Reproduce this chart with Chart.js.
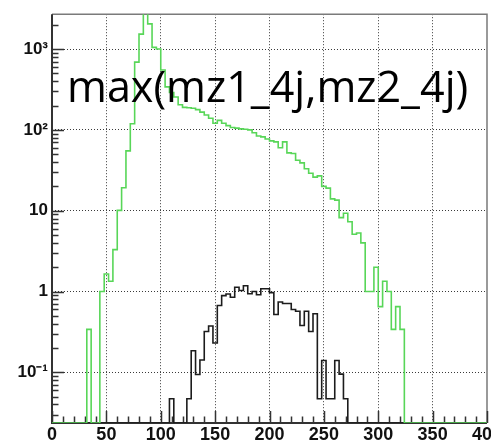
<!DOCTYPE html>
<html>
<head>
<meta charset="utf-8">
<script src="https://cdn.jsdelivr.net/npm/chart.js@4.4.0/dist/chart.umd.min.js"></script>
<style>
  html, body { margin: 0; padding: 0; background: #fff; overflow: hidden; width: 491px; height: 447px; }
  canvas { display: block; }
</style>
</head>
<body>
<canvas id="hist" width="520" height="447"></canvas>
<script>
// binning: 100 bins of width 4 between 0 and 400
const binStart = 0;
const binWidth = 4;

// green histogram, one value per bin (0 = empty bin)
const greenCounts = [
  0, 0, 0, 0, 0, 0, 0, 0, 0.34, 0,
  0, 1.0, 1.65, 1.34, 3.3, 10.1, 19.2, 55, 119, 690,
  1530, 3000, 2050, 1050, 1000, 550, 340, 290, 255, 205,
  190, 188, 185, 178, 166, 153, 139, 121, 131, 121,
  113, 107, 105, 103, 102, 100, 92, 84, 82, 77,
  73, 71, 60, 71, 52, 51, 42, 39, 33, 29,
  26, 27, 20, 19, 14, 13.5, 8.2, 9.3, 7.3, 5.1,
  5.3, 4.0, 1.0, 1.0, 2.0, 0.65, 1.34, 1.0, 0.34, 0.65,
  0.34, 0, 0, 0, 0, 0, 0, 0, 0, 0,
  0, 0, 0, 0, 0, 0, 0, 0, 0, 0
];

// black histogram
const blackCounts = [
  0, 0, 0, 0, 0, 0, 0, 0, 0, 0,
  0, 0, 0, 0, 0, 0, 0, 0, 0, 0,
  0, 0, 0, 0, 0, 0, 0, 0.047, 0, 0,
  0, 0.047, 0.185, 0.094, 0.142, 0.32, 0.374, 0.231, 0.67, 0.89,
  0.93, 0.85, 1.13, 1.03, 1.18, 0.94, 1.0, 0.91, 1.08, 1.08,
  0.97, 0.52, 0.74, 0.71, 0.71, 0.60, 0.57, 0.38, 0.57, 0.32,
  0.53, 0.047, 0.14, 0.047, 0.047, 0.14, 0.095, 0.047, 0, 0,
  0, 0, 0, 0, 0, 0, 0, 0, 0, 0,
  0, 0, 0, 0, 0, 0, 0, 0, 0, 0,
  0, 0, 0, 0, 0, 0, 0, 0, 0, 0
];

const xTickValues = [0, 50, 100, 150, 200, 250, 300, 350, 400];
const xTickLabels = ['0', '50', '100', '150', '200', '250', '300', '350', '400'];
const yTickValues = [0.1, 1, 10, 100, 1000];
const yTickLabels = ['10\u207B\u00B9', '1', '10', '10\u00B2', '10\u00B3'];
const titleText = 'max(mz1_4j,mz2_4j)';

const xMin = 0, xMax = 400;
const yMin = 0.0236, yMax = 2700;

// each bin -> two points (left edge, right edge); empty bins sit on the bottom axis
function histPoints(counts) {
  let pts = [];
  counts.forEach((c, i) => {
    let v = c > 0 ? c : yMin;
    pts.push({ x: binStart + i * binWidth, y: v });
    pts.push({ x: binStart + (i + 1) * binWidth, y: v });
  });
  return pts;
}

// ROOT style frame, axes and inside ticks
const rootAxes = {
  id: 'rootAxes',
  beforeDatasetsDraw(chart) {
    const { ctx, chartArea: a, scales: { x, y } } = chart;
    ctx.save();
    ctx.strokeStyle = '#7a7a7a';
    ctx.lineWidth = 1.5;
    ctx.beginPath();
    ctx.moveTo(a.left, a.top);
    ctx.lineTo(a.right, a.top);
    ctx.lineTo(a.right, a.bottom);
    ctx.stroke();

    ctx.strokeStyle = '#333';
    ctx.lineWidth = 2;
    ctx.beginPath();
    ctx.moveTo(a.left, a.top);
    ctx.lineTo(a.left, a.bottom);
    ctx.lineTo(a.right, a.bottom);
    ctx.stroke();

    ctx.lineWidth = 1.5;
    ctx.beginPath();
    for (let v = xMin; v <= xMax; v += 10) {
      let px = Math.round(x.getPixelForValue(v)) + 0.5;
      let len = v % 50 === 0 ? 12 : 6.5;
      ctx.moveTo(px, a.bottom);
      ctx.lineTo(px, a.bottom - len);
    }
    for (let d = -2; d <= 3; d++) {
      for (let m = 1; m <= 9; m++) {
        let v = m * Math.pow(10, d);
        if (v < yMin || v > yMax) continue;
        let py = Math.round(y.getPixelForValue(v)) + 0.5;
        let len = m === 1 ? 12 : 6.5;
        ctx.moveTo(a.left, py);
        ctx.lineTo(a.left + len, py);
      }
    }
    ctx.stroke();
    ctx.restore();
  },
  afterDatasetsDraw(chart) {
    const ctx = chart.ctx;
    ctx.save();
    ctx.font = '100px "Open Sans"';
    let w = ctx.measureText(titleText).width;
    let size = 100 * 401 / w;
    ctx.font = size.toFixed(1) + 'px "Open Sans"';
    ctx.fillStyle = '#000';
    ctx.textBaseline = 'alphabetic';
    ctx.textAlign = 'left';
    ctx.fillText(titleText, 67, 102);
    ctx.restore();
  }
};

function gridColor(edgeValues) {
  return (c) => {
    if (c.tick && edgeValues.indexOf(c.tick.value) >= 0) return 'rgba(0,0,0,0)';
    return '#3a3a3a';
  };
}

let ctx = document.getElementById('hist').getContext('2d');
let hist = new Chart(ctx, {
  type: 'line',
  data: {
    datasets: [
      {
        label: 'green',
        data: histPoints(greenCounts),
        borderColor: 'rgb(88, 214, 88)',
        borderWidth: 1.6,
        pointRadius: 0,
        fill: false,
        tension: 0
      },
      {
        label: 'black',
        data: histPoints(blackCounts),
        borderColor: '#1c1c1c',
        borderWidth: 1.6,
        pointRadius: 0,
        fill: false,
        tension: 0
      }
    ]
  },
  options: {
    responsive: false,
    animation: false,
    devicePixelRatio: 1,
    layout: { padding: { left: 0, top: 12, right: 33, bottom: 0 } },
    plugins: {
      legend: { display: false },
      tooltip: { enabled: false }
    },
    scales: {
      x: {
        type: 'linear',
        min: xMin,
        max: xMax,
        afterBuildTicks: (s) => { s.ticks = xTickValues.map(v => ({ value: v })); },
        afterFit: (s) => { s.height = 24; },
        grid: {
          color: gridColor([xMin, xMax]),
          lineWidth: 1,
          drawTicks: false,
          borderDash: [1, 2]
        },
        border: { display: false, dash: [1, 2] },
        ticks: {
          autoSkip: false,
          maxRotation: 0,
          padding: 1,
          color: '#111',
          font: { family: '"Liberation Sans", Arial, sans-serif', size: 18, weight: 'bold' },
          callback: (v) => xTickLabels[xTickValues.indexOf(v)]
        }
      },
      y: {
        type: 'logarithmic',
        min: yMin,
        max: yMax,
        afterBuildTicks: (s) => { s.ticks = yTickValues.map(v => ({ value: v })); },
        afterFit: (s) => { s.width = 52; },
        grid: {
          color: '#3a3a3a',
          lineWidth: 1,
          drawTicks: false,
          borderDash: [1, 2]
        },
        border: { display: false, dash: [1, 2] },
        ticks: {
          autoSkip: false,
          padding: 4,
          color: '#111',
          font: { family: '"Liberation Sans", Arial, sans-serif', size: 17, weight: 'bold' },
          callback: (v) => yTickLabels[yTickValues.indexOf(v)]
        }
      }
    }
  },
  plugins: [rootAxes]
});
</script>
</body>
</html>
